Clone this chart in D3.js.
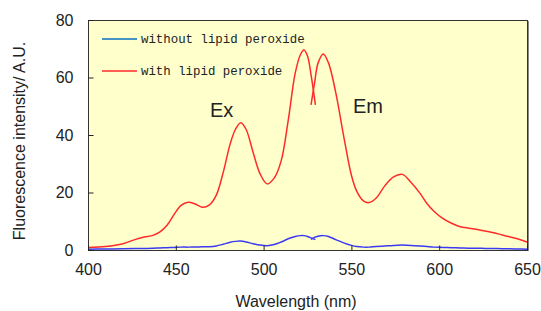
<!DOCTYPE html>
<html>
  <head>
    <meta charset="utf-8">
    <title>Fluorescence spectra</title>
    <script src="https://cdn.jsdelivr.net/npm/d3@7"></script>
	<style>
		body { margin:0; background:white; }
		text { font-family:"Liberation Sans", Arial, sans-serif; fill:#222; }
		.legend text { font-family:"Liberation Mono", "DejaVu Sans Mono", monospace; font-size:12.4px; }
	</style>
  </head>
  <body>
	<svg></svg>
    <script>
	// excitation part (up to ~529 nm)
	var exWavelength = [400,410,420,427,432,437,441,445,449,453,457,461,465,469,473,477,481,484,487,490,494,498,502,506,510,514,518,521,523,525,527,529.5];
	var exWith =       [0.9,1.2,2.2,3.7,4.5,5.1,6.3,8.6,12.3,15.5,16.6,16.0,14.9,15.6,19,27,37,42,44.3,42,34,26.5,23,25,31,45,61.5,68,69.6,67.5,61,50.5];
	var exWithout =    [0.3,0.35,0.4,0.5,0.55,0.6,0.7,0.8,0.9,1.0,1.0,1.05,1.1,1.15,1.4,2.0,2.7,3.0,3.1,2.8,2.2,1.7,1.5,1.9,2.8,3.9,4.7,5.0,5.0,4.7,4.2,3.6];
	// emission part (from ~527 nm)
	var emWavelength = [527,529,531,534,537,541,546,550,553,557,560,564,569,574,579,584,589,593,597,602,607,612,617,621,626,631,636,640,645,650];
	var emWith =       [50.5,58,65,68.2,65,55,38.3,26,20.5,17,16.5,18,22.3,25.4,26.3,23.5,19.8,16.2,13.5,11,9.3,8.1,7.6,7.2,6.6,6,5.2,4.6,3.8,2.8];
	var emWithout =    [3.7,4.4,4.8,5.0,4.7,3.6,2.4,1.6,1.2,1.0,1.0,1.2,1.4,1.6,1.7,1.6,1.4,1.2,1.0,0.9,0.8,0.7,0.6,0.6,0.55,0.5,0.45,0.4,0.35,0.3];

	var xTicks = [400,450,500,550,600,650];
	var yTicks = [0,20,40,60,80];
	var legendNames = ["without lipid peroxide","with lipid peroxide"];

	var width = 541,
	    height = 311;
	var plotLeft = 88, plotRight = 527, plotTop = 20, plotBottom = 250;
	var redColour = "#ff2a2a", blueColour = "#3a3af2";

	var svg = d3.select("svg")
		.attr("width", width)
		.attr("height", height);

	var x = d3.scaleLinear().domain([400,650]).range([plotLeft,plotRight]);
	var y = d3.scaleLinear().domain([0,80]).range([plotBottom,plotTop]);

	svg.append("rect")
		.attr("x", plotLeft).attr("y", plotTop)
		.attr("width", plotRight-plotLeft).attr("height", plotBottom-plotTop)
		.attr("fill", "#ffffcc");

	var line = d3.line()
		.x(function(d){ return x(d[0]); })
		.y(function(d){ return y(d[1]); })
		.curve(d3.curveCatmullRom.alpha(0.5));

	function addCurve(xs, ys, colour) {
		svg.append("path")
			.datum(d3.zip(xs, ys))
			.attr("d", line)
			.attr("fill", "none")
			.attr("stroke", colour)
			.attr("stroke-width", 1.5);
	}
	addCurve(exWavelength, exWithout, blueColour);
	addCurve(emWavelength, emWithout, blueColour);
	addCurve(exWavelength, exWith, redColour);
	addCurve(emWavelength, emWith, redColour);

	// frame
	svg.append("rect")
		.attr("x", plotLeft+0.5).attr("y", plotTop+0.5)
		.attr("width", plotRight-plotLeft).attr("height", plotBottom-plotTop)
		.attr("fill", "none")
		.attr("stroke", "#333");
	svg.append("line")
		.attr("x1", plotRight+1.5).attr("x2", plotRight+1.5)
		.attr("y1", plotTop+1).attr("y2", plotBottom+1)
		.attr("stroke", "#888");

	svg.append("g")
		.attr("transform", "translate(0," + (plotBottom+0.5) + ")")
		.call(d3.axisBottom(x).tickValues(xTicks).tickSizeInner(-5).tickSizeOuter(0).tickPadding(13));
	svg.append("g")
		.attr("transform", "translate(" + (plotLeft+0.5) + ",0)")
		.call(d3.axisLeft(y).tickValues(yTicks).tickSizeInner(-5).tickSizeOuter(0).tickPadding(15));
	svg.selectAll(".domain").remove();
	svg.selectAll(".tick line").attr("stroke", "#222");
	svg.selectAll(".tick text")
		.style("font-family", "'Liberation Sans', Arial, sans-serif")
		.style("font-size", "16px")
		.attr("fill", "#222");

	svg.append("text")
		.attr("x", 296).attr("y", 307)
		.attr("text-anchor", "middle")
		.style("font-size", "16px")
		.text("Wavelength (nm)");
	svg.append("text")
		.attr("transform", "translate(25,141) rotate(-90)")
		.attr("text-anchor", "middle")
		.style("font-size", "16px")
		.text("Fluorescence intensity/ A.U.");

	svg.append("text").attr("x", 210).attr("y", 117).style("font-size", "20px").text("Ex");
	svg.append("text").attr("x", 353).attr("y", 112.5).style("font-size", "20px").text("Em");

	// legend
	var legend = svg.append("g").attr("class", "legend");
	var legendColours = ["#0a6fc2", redColour];
	legendNames.forEach(function(name, i) {
		var ly = 39 + i*32;
		legend.append("line")
			.attr("x1", 102).attr("x2", 137)
			.attr("y1", ly).attr("y2", ly)
			.attr("stroke", legendColours[i])
			.attr("stroke-width", 1.5);
		legend.append("text")
			.attr("x", 141).attr("y", ly+4)
			.text(name);
	});
    </script>
  </body>
</html>
